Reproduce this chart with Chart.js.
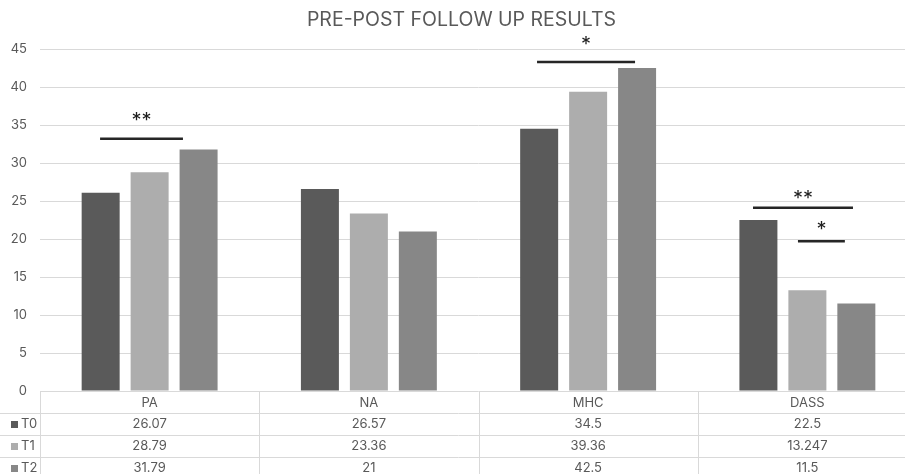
<!DOCTYPE html>
<html>
<head>
<meta charset="utf-8">
<script src="https://cdn.jsdelivr.net/npm/chart.js@4"></script>
<style>
  html, body { margin: 0; padding: 0; background: #fff; overflow: hidden; }
  #wrap { width: 923px; height: 474px; }
</style>
</head>
<body>
<div id="wrap"><canvas id="c" width="923" height="474"></canvas></div>
<script>
// Categories and time points
const categories = ['PA', 'NA', 'MHC', 'DASS'];
const seriesNames = ['T0', 'T1', 'T2'];

// Scores per time point
const t0Values = [26.07, 26.57, 34.5, 22.5];
const t1Values = [28.79, 23.36, 39.36, 13.247];
const t2Values = [31.79, 21, 42.5, 11.5];

// Y axis range
const yMin = 0;
const yMax = 45;
const yStep = 5;

// Significance markers: category, span (category-width fractions from centre), level, label level, label
const sigCategory = [0, 2, 3, 3];
const sigFrom = [-0.226, -0.233, -0.248, -0.043];
const sigTo = [0.152, 0.214, 0.208, 0.171];
const sigLevel = [33.2, 43.3, 24.1, 19.7];
const sigLabelLevel = [36.1, 46.1, 25.9, 21.8];
const sigLabel = ['**', '*', '**', '*'];

const barColors = ['#5a5a5a', '#adadad', '#878787'];
const textColor = '#595959';
const gridColor = '#d9d9d9';
const FONT = 'Inter, "Open Sans", "Liberation Sans", sans-serif';

const allSeries = [t0Values, t1Values, t2Values];

const tablePlugin = {
  id: 'tableAndNotes',
  afterDraw(chart) {
    const ctx = chart.ctx;
    const area = chart.chartArea;
    const xs = chart.scales.x;
    const ys = chart.scales.y;
    const rowH = 22;
    const bottom = area.bottom;
    const catW = (area.right - area.left) / categories.length;

    ctx.save();
    // title
    ctx.fillStyle = textColor;
    ctx.font = '19.5px ' + FONT;
    ctx.textAlign = 'center';
    ctx.textBaseline = 'middle';
    ctx.fillText('PRE-POST FOLLOW UP RESULTS', chart.width / 2, 20);

    // table grid
    ctx.strokeStyle = gridColor;
    ctx.lineWidth = 1;
    ctx.beginPath();
    for (let k = 1; k <= seriesNames.length; k++) {
      const y = Math.round(bottom + rowH * k) + 0.5;
      ctx.moveTo(0, y);
      ctx.lineTo(area.right, y);
    }
    for (let i = 0; i <= categories.length; i++) {
      const x = Math.round(area.left + catW * i) + 0.5;
      ctx.moveTo(x, bottom);
      ctx.lineTo(x, chart.height);
    }
    ctx.stroke();

    // table values and series keys
    ctx.font = '13px ' + FONT;
    ctx.textBaseline = 'middle';
    allSeries.forEach((vals, s) => {
      const yMid = bottom + rowH * (s + 1) + rowH / 2;
      ctx.fillStyle = textColor;
      ctx.textAlign = 'center';
      vals.forEach((v, i) => {
        ctx.fillText(String(v), xs.getPixelForValue(i), yMid);
      });
      ctx.fillStyle = barColors[s];
      ctx.fillRect(11, Math.round(yMid - 3), 7, 7);
      ctx.fillStyle = textColor;
      ctx.textAlign = 'left';
      ctx.fillText(seriesNames[s], 21, yMid);
    });

    // significance bars and stars
    ctx.strokeStyle = '#262626';
    ctx.lineWidth = 2.5;
    ctx.fillStyle = '#1f1f1f';
    ctx.font = '20px ' + FONT;
    ctx.textAlign = 'center';
    ctx.textBaseline = 'alphabetic';
    sigCategory.forEach((c, k) => {
      const cx = xs.getPixelForValue(c);
      const x1 = cx + sigFrom[k] * catW;
      const x2 = cx + sigTo[k] * catW;
      const y = ys.getPixelForValue(sigLevel[k]);
      ctx.beginPath();
      ctx.moveTo(x1, y);
      ctx.lineTo(x2, y);
      ctx.stroke();
      const m = ctx.measureText(sigLabel[k]);
      const ly = ys.getPixelForValue(sigLabelLevel[k]);
      const glyphMid = (m.actualBoundingBoxAscent - m.actualBoundingBoxDescent) / 2;
      ctx.fillText(sigLabel[k], (x1 + x2) / 2, ly + glyphMid);
    });
    ctx.restore();
  }
};

new Chart(document.getElementById('c'), {
  type: 'bar',
  data: {
    labels: categories,
    datasets: seriesNames.map((name, s) => ({
      label: name,
      data: allSeries[s],
      backgroundColor: barColors[s],
      borderWidth: 0,
      categoryPercentage: 0.67,
      barPercentage: 0.776
    }))
  },
  options: {
    responsive: false,
    animation: false,
    devicePixelRatio: 1,
    layout: { padding: { top: 49, right: 6, left: 0, bottom: 0 } },
    plugins: {
      legend: { display: false },
      title: { display: false },
      tooltip: { enabled: false }
    },
    scales: {
      x: {
        grid: { display: false, drawTicks: false },
        border: { display: false },
        ticks: { color: textColor, font: { family: FONT, size: 13 }, padding: 4 },
        afterFit(scale) { scale.height = 83; }
      },
      y: {
        min: yMin,
        max: yMax,
        grid: { color: gridColor, drawTicks: false },
        border: { display: false },
        ticks: { stepSize: yStep, color: textColor, font: { family: FONT, size: 13 }, padding: 13 },
        afterFit(scale) { scale.width = 40; }
      }
    }
  },
  plugins: [tablePlugin]
});
</script>
</body>
</html>
